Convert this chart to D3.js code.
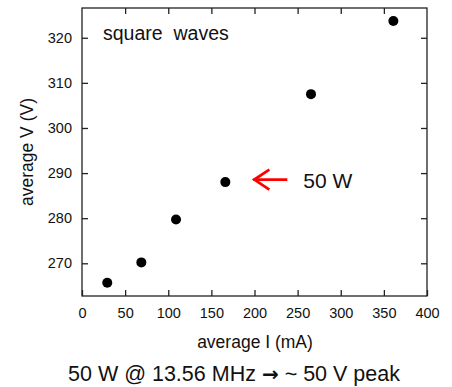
<!DOCTYPE html>
<html><head><meta charset="utf-8">
<script src="https://cdn.jsdelivr.net/npm/d3@7"></script>
<style>body{margin:0;background:#fff}svg{display:block;font-family:"Liberation Sans",Arial,sans-serif}</style>
</head><body><svg id="c" width="452" height="387"></svg>
<script>
const currents = [29.3, 68.8, 109, 166.2, 265.5, 361];
const voltages = [265.7, 270.2, 279.7, 288.0, 307.5, 323.7];
const xTicks = [0, 50, 100, 150, 200, 250, 300, 350, 400];
const yTicks = [270, 280, 290, 300, 310, 320];
const annotation = {x: 166.2, y: 288.0, label: "50 W"};

const svg = d3.select("#c");
const L = 82, R = 427, T = 8, B = 296;
const x = d3.scaleLinear().domain([0, 400]).range([L, R]);
const y = d3.scaleLinear().domain([262.75, 326.6]).range([B, T]);
const col = "#222";

const gB = svg.append("g").attr("transform", `translate(0,${B})`)
  .call(d3.axisBottom(x).tickValues(xTicks).tickSizeInner(-6).tickSizeOuter(0).tickPadding(12));
const gT = svg.append("g").attr("transform", `translate(0,${T})`)
  .call(d3.axisTop(x).tickValues(xTicks.slice(1, -1)).tickSizeInner(-6).tickSizeOuter(0).tickFormat(""));
const gL = svg.append("g").attr("transform", `translate(${L},0)`)
  .call(d3.axisLeft(y).tickValues(yTicks).tickSizeInner(-6).tickSizeOuter(0).tickPadding(10));
const gR = svg.append("g").attr("transform", `translate(${R},0)`)
  .call(d3.axisRight(y).tickValues(yTicks).tickSizeInner(-6).tickSizeOuter(0).tickFormat(""));
[gB, gT, gL, gR].forEach(g => {
  g.select(".domain").remove();
  g.selectAll(".tick line").attr("stroke", col).attr("stroke-width", 1.3);
  g.selectAll("text").attr("font-size", 14.5).attr("fill", "#111").attr("font-family", "Liberation Sans, Arial, sans-serif");
});
gB.selectAll("text").attr("dy", "0.71em");
svg.append("rect").attr("x", L).attr("y", T).attr("width", R - L).attr("height", B - T)
  .attr("fill", "none").attr("stroke", col).attr("stroke-width", 1.3);

svg.append("g").selectAll("circle").data(currents).join("circle")
  .attr("cx", d => x(d)).attr("cy", (d, i) => y(voltages[i])).attr("r", 5).attr("fill", "#000");

const ax = x(annotation.x) + 28, ay = y(annotation.y) - 2.5;
const ag = svg.append("g").attr("stroke", "#f00").attr("stroke-width", 2.8).attr("fill", "none");
ag.append("line").attr("x1", ax).attr("y1", ay).attr("x2", ax + 34).attr("y2", ay);
ag.append("polyline").attr("points", `${ax+16},${ay-10} ${ax+1},${ay} ${ax+16},${ay+10}`);
svg.append("text").attr("x", ax + 50).attr("y", ay + 8).attr("font-size", 21).attr("fill", "#111").text(annotation.label);

svg.append("text").attr("x", 103).attr("y", 40).attr("font-size", 19.5).attr("fill", "#111").attr("xml:space","preserve").text("square  waves");
svg.append("text").attr("x", 255).attr("y", 348).attr("text-anchor", "middle").attr("font-size", 17.5).attr("fill", "#111").text("average I (mA)");
svg.append("text").attr("transform", "translate(33,152) rotate(-90)").attr("text-anchor", "middle").attr("font-size", 17.5).attr("fill", "#111").text("average V (V)");
const bt = svg.append("text").attr("x", 234).attr("y", 381).attr("text-anchor", "middle").attr("font-size", 21.5).attr("fill", "#111");
bt.append("tspan").text("50 W @ 13.56 MHz ");
bt.append("tspan").attr("font-family", "DejaVu Sans").attr("font-weight", "bold").attr("font-size", 20).text("\u2192");
bt.append("tspan").text(" ~ 50 V peak");
</script></body></html>
